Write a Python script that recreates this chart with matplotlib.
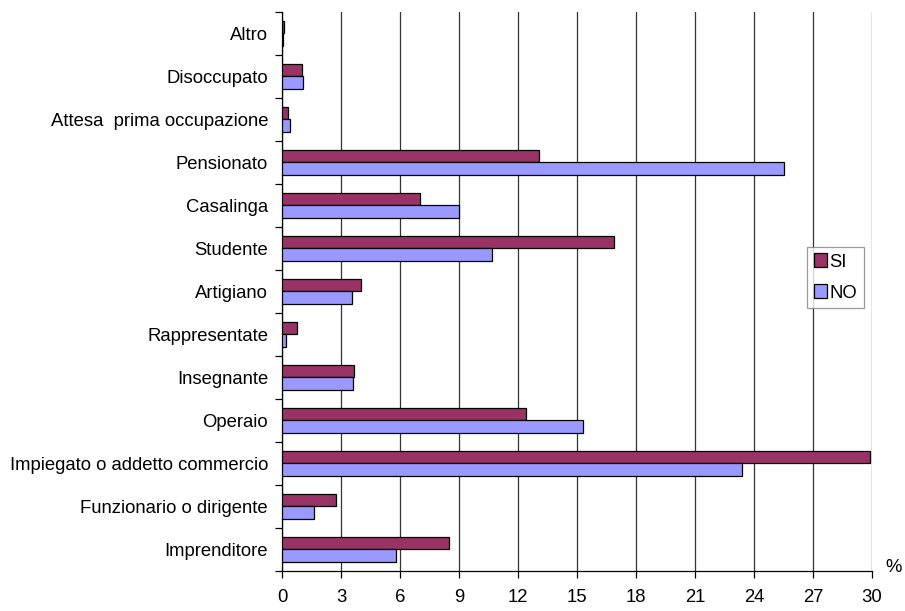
import numpy as np
import matplotlib.pyplot as plt
from matplotlib.ticker import MultipleLocator

plt.rcParams['font.family'] = ['Liberation Sans', 'DejaVu Sans']

# categories, bottom to top
categories = [
    "Imprenditore",
    "Funzionario o dirigente",
    "Impiegato o addetto commercio",
    "Operaio",
    "Insegnante",
    "Rappresentate",
    "Artigiano",
    "Studente",
    "Casalinga",
    "Pensionato",
    "Attesa  prima occupazione",
    "Disoccupato",
    "Altro",
]

si_values = [8.5, 2.75, 29.9, 12.4, 3.65, 0.75, 4.0, 16.9, 7.0, 13.05, 0.3, 1.0, 0.12]
no_values = [5.8, 1.65, 23.4, 15.3, 3.6, 0.2, 3.55, 10.7, 9.0, 25.5, 0.4, 1.07, 0.07]

x_ticks = [0, 3, 6, 9, 12, 15, 18, 21, 24, 27, 30]

FS = 13.3

fig = plt.figure(figsize=(9.05, 6.11), dpi=100)
ax = fig.add_axes([0.3116, 0.0655, 0.652, 0.9149])

y = np.arange(len(categories))
h = 0.286

ax.barh(y + h / 2, si_values, height=h, color="#993366",
        edgecolor="black", linewidth=0.9, label="SI", zorder=3)
ax.barh(y - h / 2, no_values, height=h, color="#9999FF",
        edgecolor="black", linewidth=0.9, label="NO", zorder=3)

ax.set_xlim(0, 30)
ax.set_ylim(-0.5, len(categories) - 0.5)

ax.set_xticks(x_ticks)
ax.set_xticklabels([str(t) for t in x_ticks])
ax.xaxis.grid(True, color="#333333", linewidth=0.9, zorder=0)

# category labels at centers, tick marks between categories
ax.set_yticks(y)
ax.set_yticklabels(categories)
ax.yaxis.set_minor_locator(MultipleLocator(1, offset=0.5))
ax.tick_params(axis='y', which='major', length=0, labelsize=FS, pad=10)
ax.tick_params(axis='y', which='minor', length=5, width=0.9, direction='out')
ax.tick_params(axis='x', which='major', length=5, width=0.9, direction='out',
               labelsize=FS, pad=8)

for side in ['top', 'right']:
    ax.spines[side].set_visible(False)
ax.spines['left'].set_linewidth(0.9)
ax.spines['bottom'].set_linewidth(0.9)

ax.text(1.036, 0.007, "%", transform=ax.transAxes, fontsize=FS,
        ha='center', va='center')

leg = ax.legend(loc='center left', bbox_to_anchor=(0.89, 0.525),
                fontsize=FS, frameon=True, fancybox=False,
                edgecolor="#808080", handlelength=0.75, handleheight=0.75,
                handletextpad=0.1, borderpad=0.35, labelspacing=0.75,
                borderaxespad=0)
leg.get_frame().set_linewidth(0.9)

plt.savefig("out.png", dpi=100)
